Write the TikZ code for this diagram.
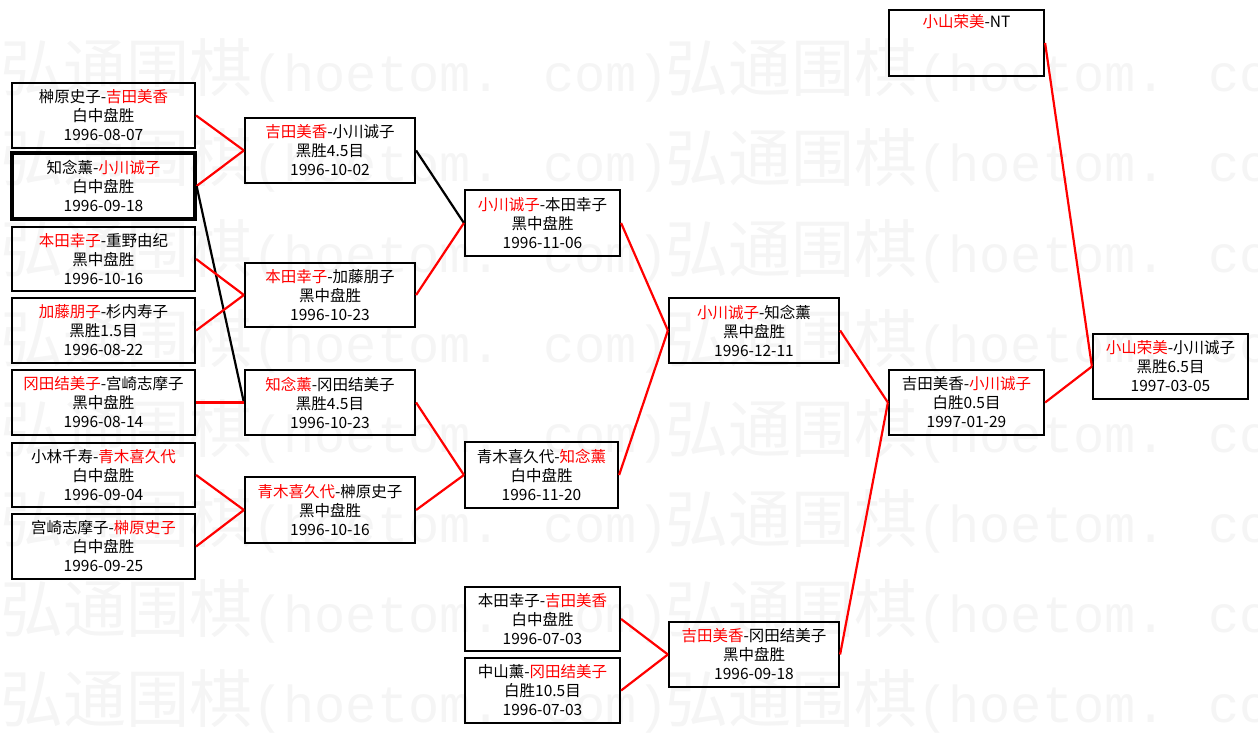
\documentclass[tikz,border=0pt]{standalone}
\usepackage{fontspec}
\setmainfont{Noto Sans CJK SC}
\newfontfamily\wmmono{Liberation Mono}
\newcommand\rd[1]{\textcolor{red}{#1}}
\newcommand\mybox[7][]{%
  \node[boxst,#1,minimum width={(#5-#3)*1pt},minimum height={(#6-#4)*1pt}]
    (#2) at ({(#3+#5)/2},{(#4+#6)/2}) {#7};}
\tikzset{
  boxst/.style={draw=black,line width=2.2pt,inner sep=0pt,align=center,
    font=\fontsize{15.5}{19}\selectfont},
  thickbox/.style={line width=3.2pt},
  conR/.style={draw=red,line width=2.2pt},
  conK/.style={draw=black,line width=2.2pt},
  wm/.style={anchor=base west,inner sep=0pt,text=black!4}
}
\begin{document}
\begin{tikzpicture}[x=1pt,y=-1pt]
\useasboundingbox (0,0) rectangle (1258,733);
% watermark
\foreach \r in {0,...,7}{
  \foreach \c in {0,665}{
    \node[wm] (wm\r\c) at (\c,{92+90*\r})
      {{\fontsize{63}{63}\selectfont 弘通围棋}{\wmmono\fontsize{52}{52}\selectfont (hoetom. com)}};
  }
}
% column 1
\mybox{b1}{12}{83}{195}{148}{榊原史子-\rd{吉田美香}\\白中盘胜\\1996-08-07}
\mybox[thickbox]{b2}{12}{153}{195}{219}{知念薰-\rd{小川诚子}\\白中盘胜\\1996-09-18}
\mybox{b3}{12}{227}{195}{291}{\rd{本田幸子}-重野由纪\\黑中盘胜\\1996-10-16}
\mybox{b4}{12}{298}{195}{363}{\rd{加藤朋子}-杉内寿子\\黑胜1.5目\\1996-08-22}
\mybox{b5}{12}{370}{195}{435}{\rd{冈田结美子}-宫崎志摩子\\黑中盘胜\\1996-08-14}
\mybox{b6}{12}{443}{195}{507}{小林千寿-\rd{青木喜久代}\\白中盘胜\\1996-09-04}
\mybox{b7}{12}{514}{195}{579}{宫崎志摩子-\rd{榊原史子}\\白中盘胜\\1996-09-25}
% column 2
\mybox{c1}{245}{118}{415}{183}{\rd{吉田美香}-小川诚子\\黑胜4.5目\\1996-10-02}
\mybox{c2}{245}{263}{415}{327}{\rd{本田幸子}-加藤朋子\\黑中盘胜\\1996-10-23}
\mybox{c3}{245}{370}{415}{435}{\rd{知念薰}-冈田结美子\\黑胜4.5目\\1996-10-23}
\mybox{c4}{245}{477}{415}{543}{\rd{青木喜久代}-榊原史子\\黑中盘胜\\1996-10-16}
% column 3
\mybox{d1}{465}{190}{620}{256}{\rd{小川诚子}-本田幸子\\黑中盘胜\\1996-11-06}
\mybox{d2}{465}{442}{618}{508}{青木喜久代-\rd{知念薰}\\白中盘胜\\1996-11-20}
\mybox{d3}{465}{587}{620}{651}{本田幸子-\rd{吉田美香}\\白中盘胜\\1996-07-03}
\mybox{d4}{465}{658}{620}{723}{中山薰-\rd{冈田结美子}\\白胜10.5目\\1996-07-03}
% column 4
\mybox{e1}{669}{298}{839}{363}{\rd{小川诚子}-知念薰\\黑中盘胜\\1996-12-11}
\mybox{e2}{669}{622}{839}{687}{\rd{吉田美香}-冈田结美子\\黑中盘胜\\1996-09-18}
% column 5
\mybox{f1}{889}{370}{1044}{435}{吉田美香-\rd{小川诚子}\\白胜0.5目\\1997-01-29}
\mybox{f2}{889}{10}{1044}{76}{\rd{小山荣美}-NT\\\strut\\\strut}
% final
\mybox{g}{1093}{334}{1248}{399}{\rd{小山荣美}-小川诚子\\黑胜6.5目\\1997-03-05}
% connectors
\draw[conR] (b1.east) -- (c1.west);
\draw[conR] (b2.east) -- (c1.west);
\draw[conK] (b2.east) -- (c3.west);
\draw[conR] (b3.east) -- (c2.west);
\draw[conR] (b4.east) -- (c2.west);
\draw[conR] (b5.east) -- (c3.west);
\draw[conR] (b6.east) -- (c4.west);
\draw[conR] (b7.east) -- (c4.west);
\draw[conK] (c1.east) -- (d1.west);
\draw[conR] (c2.east) -- (d1.west);
\draw[conR] (c3.east) -- (d2.west);
\draw[conR] (c4.east) -- (d2.west);
\draw[conR] (d1.east) -- (e1.west);
\draw[conR] (d2.east) -- (e1.west);
\draw[conR] (d3.east) -- (e2.west);
\draw[conR] (d4.east) -- (e2.west);
\draw[conR] (e1.east) -- (f1.west);
\draw[conR] (e2.east) -- (f1.west);
\draw[conR] (f1.east) -- (g.west);
\draw[conR] (f2.east) -- (g.west);
\end{tikzpicture}
\end{document}
